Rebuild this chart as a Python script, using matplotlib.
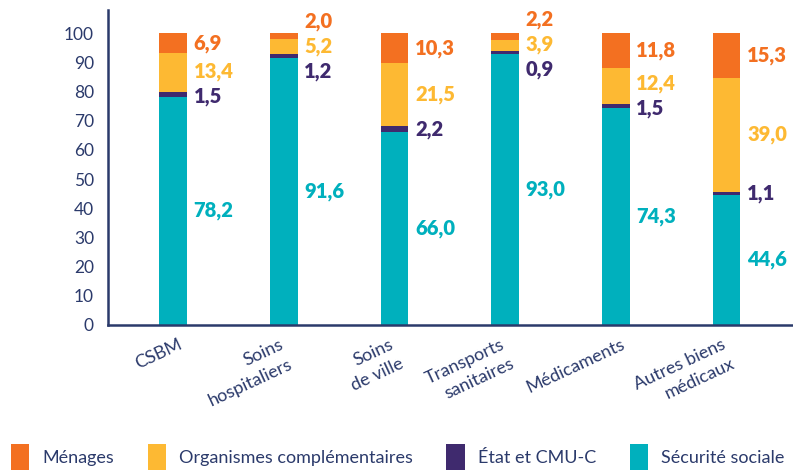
import matplotlib.pyplot as plt
import matplotlib.transforms as mtransforms
import numpy as np

# data (% du financement)
categories = ["CSBM", "Soins\nhospitaliers", "Soins\nde ville", "Transports\nsanitaires",
              "Médicaments", "Autres biens\nmédicaux"]
secu = [78.2, 91.6, 66.0, 93.0, 74.3, 44.6]
etat = [1.5, 1.2, 2.2, 0.9, 1.5, 1.1]
organismes = [13.4, 5.2, 21.5, 3.9, 12.4, 39.0]
menages = [6.9, 2.0, 10.3, 2.2, 11.8, 15.3]

series = [("Sécurité sociale", secu, "#00B0BD"),
          ("État et CMU-C", etat, "#3F2A6E"),
          ("Organismes complémentaires", organismes, "#FDB933"),
          ("Ménages", menages, "#F37021")]

navy = "#2B3A6B"
plt.rcParams['font.family'] = ['Lato', 'DejaVu Sans']

fig = plt.figure(figsize=(7.93, 4.75), dpi=100)
ax = fig.add_axes([0.136, 0.316, 0.864, 0.663])

x = np.arange(len(categories))
width = 0.25
bottom = np.zeros(len(categories))
mids = []
for name, vals, col in series:
    vals = np.array(vals)
    ax.bar(x, vals, width, bottom=bottom, color=col, label=name, zorder=2)
    mids.append(bottom + vals / 2)
    bottom = bottom + vals
mids = np.array(mids)


def spread(ys, gap):
    # push small-segment labels apart, keeping clusters centred
    ys = list(ys)
    groups = [[i] for i in range(len(ys))]
    pos = [ys[i] for i in range(len(ys))]
    changed = True
    while changed:
        changed = False
        for g in range(len(groups) - 1):
            top_a = pos[g] + (len(groups[g]) - 1) * gap / 2
            bot_b = pos[g + 1] - (len(groups[g + 1]) - 1) * gap / 2
            if bot_b - top_a < gap:
                merged = groups[g] + groups[g + 1]
                centre = np.mean([ys[i] for i in merged])
                groups[g] = merged
                pos[g] = centre
                del groups[g + 1]
                del pos[g + 1]
                changed = True
                break
    out = [0] * len(ys)
    for grp, c in zip(groups, pos):
        n = len(grp)
        for k, i in enumerate(grp):
            out[i] = c + (k - (n - 1) / 2) * gap
    return out


for j in range(len(categories)):
    ys = [mids[0, j]] + spread(mids[1:, j], 8.5)
    for (name, vals, col), yy in zip(series, ys):
        ax.text(x[j] + width / 2 + 0.06, yy, f"{vals[j]:.1f}".replace(".", ","),
                color=col, fontsize=14.5, fontweight='heavy', va='center', ha='left')

ax.set_xlim(-0.59, 5.6)
ax.set_ylim(0, 108)
ax.set_yticks(np.arange(0, 101, 10))
ax.tick_params(axis='y', length=0, labelsize=12.5, labelcolor=navy, pad=10)
ax.set_xticks([])
for s in ['top', 'right']:
    ax.spines[s].set_visible(False)
for s in ['left', 'bottom']:
    ax.spines[s].set_color(navy)
    ax.spines[s].set_linewidth(1.8)

offset = mtransforms.ScaledTranslation(0, -8 / 72, fig.dpi_scale_trans)
trans = mtransforms.blended_transform_factory(ax.transData, ax.transAxes) + offset
for j, lab in enumerate(categories):
    ax.text(x[j] + 0.1, 0, lab, transform=trans, rotation=25, ha='right', va='top',
            multialignment='right', fontsize=13, color=navy, linespacing=1.45)

handles, labels = ax.get_legend_handles_labels()
leg = fig.legend(handles[::-1], labels[::-1], loc='lower left', bbox_to_anchor=(0.0, -0.012),
                 ncol=4, frameon=False, fontsize=13, handlelength=1.0, handleheight=1.8,
                 handletextpad=0.75, columnspacing=1.85, borderaxespad=0.2)
for t in leg.get_texts():
    t.set_color(navy)

fig.savefig("out.png", dpi=100)
